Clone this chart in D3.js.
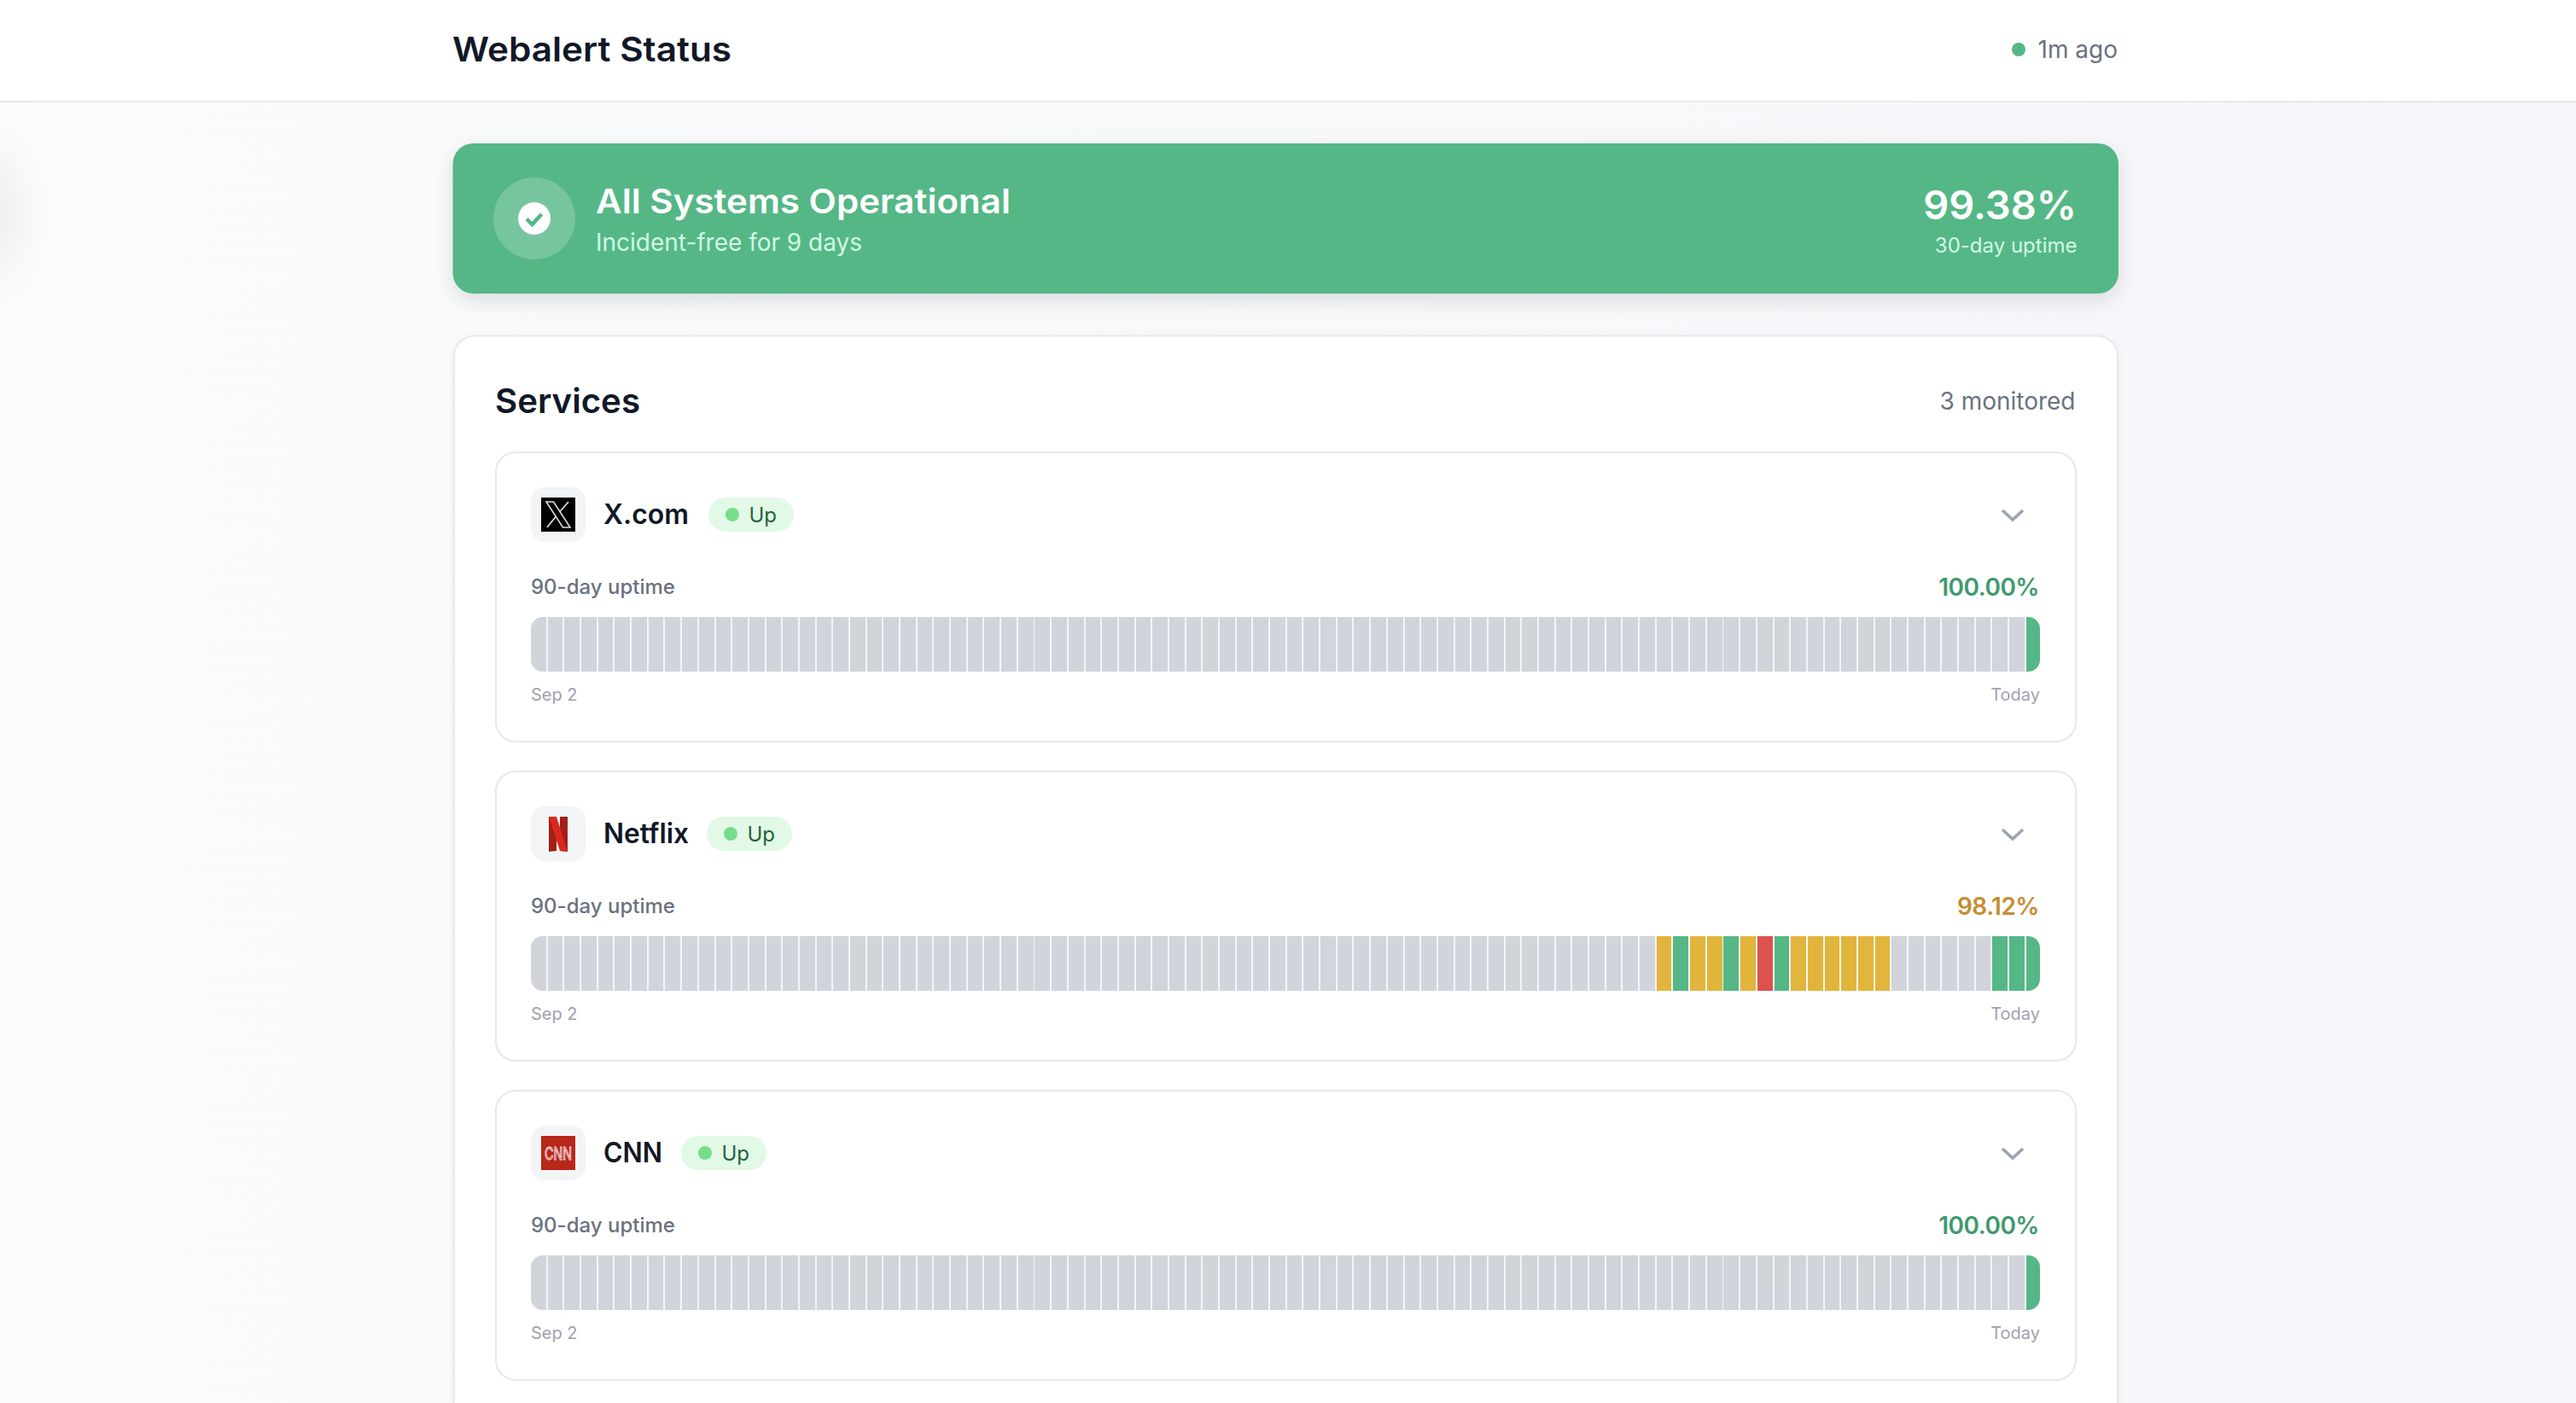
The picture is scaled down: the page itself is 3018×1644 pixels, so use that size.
<!DOCTYPE html>
<html lang="en">
  <head>
    <meta charset="utf-8">
    <title>Webalert Status</title>
    <script src="https://cdn.jsdelivr.net/npm/d3@7"></script>
    <style>
      html, body { margin: 0; padding: 0; background: #f8f8fb; overflow: hidden; }
      svg { display: block; }
      text { font-family: Inter, sans-serif; }
    </style>
  </head>
  <body>
    <div class="page"></div>
    <script type="text/javascript">
      // n = no data, u = up, d = degraded, o = outage. one letter per day, oldest first
      var services = ["X.com", "Netflix", "CNN"];
      var uptimes = ["100.00%", "98.12%", "100.00%"];
      var uptimeColors = ["#3f9a6d", "#c68d31", "#3f9a6d"];
      var xcomDays =
        "nnnnnnnnnn" + "nnnnnnnnnn" + "nnnnnnnnnn" + "nnnnnnnnnn" + "nnnnnnnnnn" +
        "nnnnnnnnnn" + "nnnnnnnnnn" + "nnnnnnnnnn" + "nnnnnnnnnu";
      var netflixDays =
        "nnnnnnnnnn" + "nnnnnnnnnn" + "nnnnnnnnnn" + "nnnnnnnnnn" + "nnnnnnnnnn" +
        "nnnnnnnnnn" + "nnnnnnndud" + "dudouddddd" + "dnnnnnnuuu";
      var cnnDays =
        "nnnnnnnnnn" + "nnnnnnnnnn" + "nnnnnnnnnn" + "nnnnnnnnnn" + "nnnnnnnnnn" +
        "nnnnnnnnnn" + "nnnnnnnnnn" + "nnnnnnnnnn" + "nnnnnnnnnu";
      var days = [xcomDays, netflixDays, cnnDays];
      var statusKeys = ["n", "u", "d", "o"];
      var statusColors = ["#d1d4db", "#55b786", "#e1b53c", "#de524e"];

      var W = 3018, H = 1644;
      var card = { left: 581, right: 2432, height: 341, pitch: 374, top: 529 };
      var nameWidths = [100, 100, 69];
      var badgeLefts = [830, 828, 798];
      var barX = d3.scaleBand().domain(d3.range(90)).range([622, 2391.5]).paddingInner(0.1).paddingOuter(0);
      var barColor = d3.scaleOrdinal().domain(statusKeys).range(statusColors);
      var cardY = d3.scalePoint().domain(services).range([card.top, card.top + 2 * card.pitch]);

      function label(x, y, str, size, weight, fill, parent) {
        return (parent || svg).append("text").attr("x", x).attr("y", y)
          .attr("font-size", size).attr("font-weight", weight).attr("fill", fill).text(str);
      }

      function fit(sel, len) {
        return sel.attr("textLength", len).attr("lengthAdjust", "spacingAndGlyphs");
      }

      var drawLogo = [
        function(g) {
          g.append("rect").attr("x", 634).attr("y", 54).attr("width", 40).attr("height", 40).attr("fill", "#000");
          g.append("path").attr("d", "M640 59 H648.5 L668 89 H659.5 Z").attr("fill", "#000").attr("stroke", "#dcdcdc").attr("stroke-width", 1.6);
          g.append("path").attr("d", "M666 59 L655.5 71 M651 76.5 L641 89").attr("fill", "none").attr("stroke", "#dcdcdc").attr("stroke-width", 1.8);
        },
        function(g) {
          g.append("path").attr("d", "M643 54 H652 V94 L643 95 Z").attr("fill", "#a31f17");
          g.append("path").attr("d", "M656 54 H665 V95 L656 94 Z").attr("fill", "#a31f17");
          g.append("path").attr("d", "M643 54 H652 L665 95 L656 94 Z").attr("fill", "#d9291f");
        },
        function(g) {
          g.append("rect").attr("x", 634).attr("y", 54).attr("width", 40).attr("height", 40).attr("fill", "#b9261a");
          fit(g.append("text").attr("x", 638).attr("y", 81.5)
            .attr("font-size", 20).attr("font-weight", 400).attr("fill", "#b9261a").attr("stroke", "#fff").attr("stroke-width", 0.9)
            .text("CNN"), 32);
        }
      ];

      var svg = d3.select(".page").append("svg").attr("width", W).attr("height", H);
      var defs = svg.append("defs");

      var bgGrad = defs.append("linearGradient").attr("id", "bg");
      bgGrad.append("stop").attr("offset", 0).attr("stop-color", "#fafbfc");
      bgGrad.append("stop").attr("offset", 1).attr("stop-color", "#f7f7fb");

      var blob = defs.append("radialGradient").attr("id", "blob");
      blob.append("stop").attr("offset", 0).attr("stop-color", "#eceded");
      blob.append("stop").attr("offset", 0.5).attr("stop-color", "#f5f6f7");
      blob.append("stop").attr("offset", 1).attr("stop-color", "#fafbfc").attr("stop-opacity", 0);

      var heroShadow = defs.append("filter").attr("id", "heroShadow")
        .attr("x", "-5%").attr("y", "-30%").attr("width", "110%").attr("height", "170%");
      heroShadow.append("feDropShadow").attr("dx", 0).attr("dy", 8).attr("stdDeviation", 12)
        .attr("flood-color", "#111827").attr("flood-opacity", 0.12);

      var panelShadow = defs.append("filter").attr("id", "panelShadow")
        .attr("x", "-3%").attr("y", "-3%").attr("width", "106%").attr("height", "106%");
      panelShadow.append("feDropShadow").attr("dx", 0).attr("dy", 2).attr("stdDeviation", 4)
        .attr("flood-color", "#111827").attr("flood-opacity", 0.05);

      // page background
      svg.append("rect").attr("width", W).attr("height", H).attr("fill", "url(#bg)");
      svg.append("ellipse").attr("cx", -10).attr("cy", 250).attr("rx", 75).attr("ry", 125).attr("fill", "url(#blob)");

      // header
      svg.append("rect").attr("width", W).attr("height", 118).attr("fill", "#fff");
      svg.append("rect").attr("y", 118).attr("width", W).attr("height", 2).attr("fill", "#e5e7eb");
      fit(label(530, 71.5, "Webalert Status", 40, 600, "#111827"), 327);
      svg.append("circle").attr("cx", 2365).attr("cy", 58).attr("r", 8).attr("fill", "#55b786");
      label(2481, 68, "1m ago", 28, 400, "#6b7280").attr("text-anchor", "end");

      // banner
      svg.append("rect").attr("x", 530.5).attr("y", 168).attr("width", 1951.5).attr("height", 176).attr("rx", 24)
        .attr("fill", "#55b786").attr("filter", "url(#heroShadow)");
      svg.append("circle").attr("cx", 626).attr("cy", 256).attr("r", 48).attr("fill", "#fff").attr("fill-opacity", 0.2);
      svg.append("circle").attr("cx", 626).attr("cy", 256).attr("r", 19).attr("fill", "#fff");
      svg.append("path").attr("d", "M617 256.5 l6.5 6.5 l11 -12").attr("fill", "none")
        .attr("stroke", "#55b786").attr("stroke-width", 4.5);
      fit(label(698, 250, "All Systems Operational", 40, 600, "#fff"), 486);
      fit(label(698, 294, "Incident-free for 9 days", 28, 400, "#d1fae5"), 312);
      label(2433, 257, "99.38%", 47, 600, "#fff").attr("text-anchor", "end");
      label(2433.5, 296, "30-day uptime", 24, 400, "#d1fae5").attr("text-anchor", "end");

      // services panel, runs off the bottom of the page
      svg.append("rect").attr("x", 532).attr("y", 393.5).attr("width", 1949).attr("height", 1400).attr("rx", 24)
        .attr("fill", "#fff").attr("stroke", "#e8e9ed").attr("stroke-width", 2).attr("filter", "url(#panelShadow)");
      fit(label(580, 484, "Services", 40, 600, "#111827"), 170);
      label(2431.5, 480, "3 monitored", 28, 400, "#6b7280").attr("text-anchor", "end");

      // one card per service
      services.forEach(function(name, i) {
        var top = cardY(name);
        var g = svg.append("g").attr("transform", "translate(0," + top + ")");
        g.append("rect").attr("x", card.left).attr("y", 1).attr("width", card.right - card.left)
          .attr("height", card.height - 2).attr("rx", 23)
          .attr("fill", "#fff").attr("stroke", "#e7e8ec").attr("stroke-width", 2);

        // logo tile
        g.append("rect").attr("x", 622).attr("y", 42).attr("width", 64).attr("height", 64).attr("rx", 16).attr("fill", "#f3f4f6");
        drawLogo[i](g);

        // name and badge
        fit(label(707, 84.5, name, 32, 600, "#111827", g), nameWidths[i]);
        var badge = g.append("g").attr("transform", "translate(" + badgeLefts[i] + ",54)");
        badge.append("rect").attr("width", 100).attr("height", 40).attr("rx", 20).attr("fill", "#e2f9e7");
        badge.append("circle").attr("cx", 28).attr("cy", 20).attr("r", 8).attr("fill", "#78dd8b");
        label(47.5, 28.5, "Up", 24, 400, "#24633a", badge);

        // chevron
        g.append("path").attr("d", "M2346 69 L2358 80 L2370 69").attr("fill", "none")
          .attr("stroke", "#9ca3af").attr("stroke-width", 3.6);

        // uptime row
        label(622, 167, "90-day uptime", 24, 500, "#6b7280", g);
        label(2389, 169, uptimes[i], 28, 600, uptimeColors[i], g).attr("text-anchor", "end").attr("letter-spacing", -0.5);

        // day bars, clipped to a rounded track
        var clipId = "track" + i;
        defs.append("clipPath").attr("id", clipId).append("rect")
          .attr("x", 622).attr("y", 194).attr("width", 1768).attr("height", 64).attr("rx", 14);
        var track = g.append("g").attr("clip-path", "url(#" + clipId + ")");
        track.append("rect").attr("x", 622).attr("y", 194).attr("width", 1768).attr("height", 64).attr("fill", "#f4f5f7");
        track.selectAll("rect.day").data(days[i].split("")).join("rect")
          .attr("class", "day")
          .attr("x", function(d, j) { return Math.round(barX(j)); })
          .attr("y", 194)
          .attr("width", function(d, j) { return Math.round(barX(j) + barX.bandwidth()) - Math.round(barX(j)); })
          .attr("height", 64)
          .attr("fill", function(d) { return barColor(d); });

        // axis ends
        label(622, 292, "Sep 2", 20, 400, "#9ca3af", g);
        label(2390, 292, "Today", 20, 400, "#9ca3af", g).attr("text-anchor", "end");
      });
    </script>
  </body>
</html>
